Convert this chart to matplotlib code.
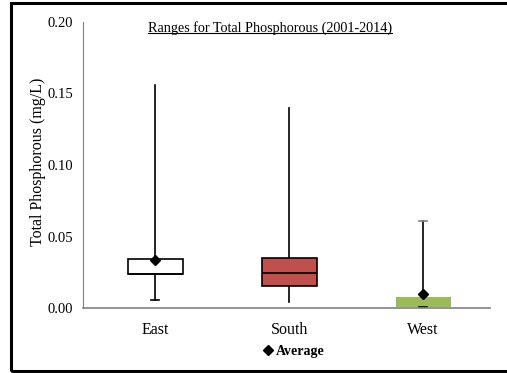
import matplotlib.pyplot as plt
from matplotlib.lines import Line2D
from matplotlib.patches import Rectangle

plt.rcParams['font.family'] = ['Liberation Serif', 'DejaVu Serif']

# total phosphorous (mg/L) ranges by region, 2001-2014
regions = ['East', 'South', 'West']
q1 = [0.0238, 0.0152, 0.0010]
median = [0.0238, 0.0243, 0.0010]
q3 = [0.0343, 0.0347, 0.0077]
low = [0.0056, 0.0044, 0.0010]
high = [0.156, 0.140, 0.061]
average = [0.0336, None, 0.0096]

box_colors = ['white', '#C0504D', '#9BBB59']
box_edges = ['black', 'black', 'none']
# which whisker caps show: (lower, upper)
caps_on = [(True, False), (False, False), (True, True)]

fig = plt.figure(figsize=(5.07, 3.73), dpi=100)
ax = fig.add_axes([83/507, 1-308/373, (490-83)/507, (308-22)/373])

for i, r in enumerate(regions):
    st = dict(label=r, q1=q1[i], med=median[i], q3=q3[i],
              whislo=low[i], whishi=high[i], fliers=[])
    art = ax.bxp([st], positions=[i+1], widths=0.41, patch_artist=True,
                 capwidths=0.06,
                 boxprops=dict(facecolor=box_colors[i], edgecolor=box_edges[i], linewidth=1.2),
                 medianprops=dict(color='black' if i == 1 else box_edges[i], linewidth=1.2),
                 whiskerprops=dict(color='black', linewidth=1.2),
                 capprops=dict(color='black', linewidth=1.2))
    for cap, on in zip(art['caps'], caps_on[i]):
        cap.set_visible(on)
    if i == 2:
        art['caps'][1].set_color('#808080')
    if average[i] is not None:
        ax.plot(i+1, average[i], marker='D', color='black', markersize=5, zorder=5)

ax.set_xlim(0.46, 3.5)
ax.set_ylim(0, 0.2)
ax.set_yticks([0, 0.05, 0.10, 0.15, 0.20])
ax.set_yticklabels(['0.00', '0.05', '0.10', '0.15', '0.20'])
ax.set_xticks([1, 2, 3])
ax.set_xticklabels(regions)
ax.tick_params(axis='both', length=0)
ax.tick_params(axis='y', pad=7, labelsize=10.5)
ax.tick_params(axis='x', pad=10, labelsize=11.5)
for s in ['top', 'right']:
    ax.spines[s].set_visible(False)
ax.spines['left'].set_color('#808080')
ax.spines['bottom'].set_color('#808080')
ax.spines['bottom'].set_linewidth(1.2)

fig.text(38/507, 1-162/373, 'Total Phosphorous (mg/L)', rotation=90,
         ha='center', va='center', fontsize=11.5)

title = fig.text(270/507, 1-28/373, 'Ranges for Total Phosphorous (2001-2014)',
                 ha='center', va='center', fontsize=10.2)

avg_handle = Line2D([], [], marker='D', color='black', linestyle='none', markersize=5)
fig.legend([avg_handle], ['Average'], loc='center', bbox_to_anchor=(293/507, 1-351/373),
           frameon=False, prop=dict(weight='bold', size=10), handletextpad=0.1,
           handlelength=1)

# underline the title
fig.canvas.draw()
bb = title.get_window_extent().transformed(fig.transFigure.inverted())
fig.add_artist(Line2D([bb.x0, bb.x1], [bb.y0 + 0.004, bb.y0 + 0.004],
                      color='black', linewidth=0.8, transform=fig.transFigure))

# outer frame
fig.add_artist(Rectangle((11/507, 2/373), 1.0, 1-5/373, transform=fig.transFigure,
                         fill=False, edgecolor='black', linewidth=2.2))

fig.savefig('out.png', dpi=100)
